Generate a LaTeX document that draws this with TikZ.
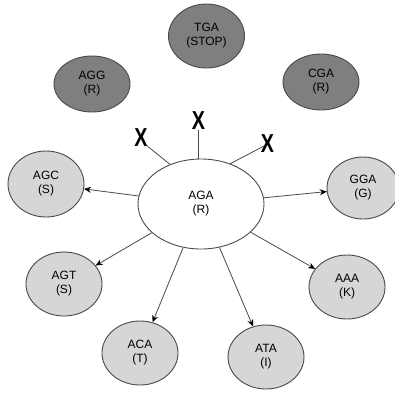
\documentclass[tikz,border=0pt]{standalone}
\usepackage{fontspec}
\setmainfont{Liberation Sans}
\usetikzlibrary{shapes.geometric,arrows.meta}
\definecolor{darkfill}{HTML}{7F7F7F}
\definecolor{lightfill}{HTML}{D6D6D6}
\definecolor{edge}{HTML}{4A4A4A}
\begin{document}
\begin{tikzpicture}[x=1pt,y=-1pt,
  codon/.style={ellipse,draw=edge,line width=0.9pt,inner sep=0pt,
    minimum width=76pt,minimum height=64pt,align=center,
    font=\fontsize{12}{14}\selectfont},
  stopc/.style={codon,fill=darkfill},
  mutc/.style={codon,fill=lightfill},
  link/.style={draw=edge,line width=0.8pt,-{Stealth[length=7pt,width=6pt,black]}},
  blocked/.style={draw=edge,line width=0.8pt},
  xmark/.style={font=\fontsize{26}{26}\selectfont\bfseries,inner sep=0pt,xscale=0.76}]
\useasboundingbox (0,0) rectangle (395,392);
\fill[white] (0,0) rectangle (395,392);
\node[stopc] (tga) at (206.5,36) {TGA\\(STOP)};
\node[stopc,minimum height=56pt] (agg) at (92,84) {AGG\\(R)};
\node[stopc,minimum height=56pt] (cga) at (321,82) {CGA\\(R)};
\node[codon,fill=white,minimum width=126pt,minimum height=90pt] (aga) at (201,204) {AGA\\(R)};
\node[mutc,minimum height=66pt] (agc) at (46,184) {AGC\\(S)};
\node[mutc,minimum width=72pt,minimum height=62pt] (gga) at (363,188) {GGA\\(G)};
\node[mutc] (agt) at (64,284) {AGT\\(S)};
\node[mutc] (aca) at (140,353) {ACA\\(T)};
\node[mutc] (ata) at (266,357) {ATA\\(I)};
\node[mutc] (aaa) at (347,287) {AAA\\(K)};
\coordinate (xl) at (146,145);
\coordinate (xm) at (198,130);
\coordinate (xr) at (264,146);
\node[xmark] (xL) at (141,137.5) {X};
\node[xmark] (xM) at (198.5,121) {X};
\node[xmark] (xR) at (267.5,143.5) {X};
\draw[blocked] (aga.128) -- (xl);
\draw[blocked] (aga.north) ++(-3,0) coordinate (amid) -- (xm);
\draw[blocked] (aga.54) -- (xr);
\draw[link] (aga) -- (agc);
\draw[link] (aga) -- (gga);
\draw[link] (aga) -- (agt);
\draw[link] (aga) -- (aca);
\draw[link] (aga) -- (ata);
\draw[link] (aga) -- (aaa);
\end{tikzpicture}
\end{document}
